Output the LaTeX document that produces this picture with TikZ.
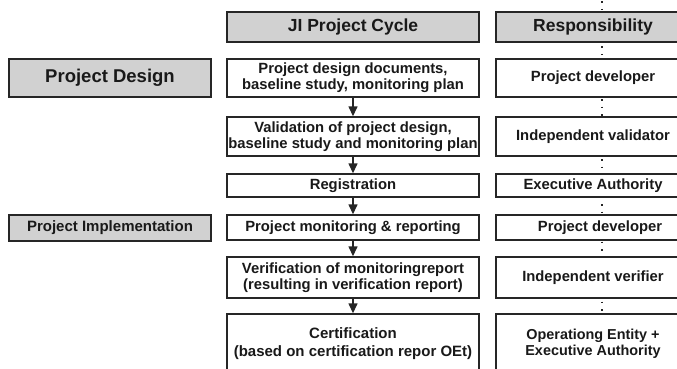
\documentclass[tikz,border=0pt]{standalone}
\usepackage{fontspec}
\setmainfont{Liberation Sans}
\usetikzlibrary{arrows.meta,positioning,backgrounds}

\begin{document}
\begin{tikzpicture}[x=1pt,y=-1pt,
  box/.style={draw=dark line,line width=1.4pt,fill=white,text=dark text,align=center,inner sep=0,
    font=\bfseries\fontsize{14.8}{16}\selectfont},
  stage/.style={box,minimum width=252pt},
  resp/.style={box,minimum width=194pt},
  head/.style={box,fill=light gray,minimum height=30pt,font=\bfseries\fontsize{17.5}{20}\selectfont},
  phase/.style={head,minimum width=202pt},
  flow/.style={-{Triangle[length=10pt,width=9pt]},line width=1.4pt,draw=dark line},
  dots/.style={line width=1.5pt,draw=dark line,dash pattern=on 1.5pt off 6pt},
]
  \colorlet{light gray}{black!18}
  \colorlet{dark line}{black!85}
  \colorlet{dark text}{black!90}
  \clip (0,0) rectangle (677,369);

  % phases
  \node[phase,minimum height=38pt,font=\bfseries\fontsize{18.5}{20}\selectfont] (design) at (110,78) {Project Design};
  \node[phase,minimum height=26pt,font=\bfseries\fontsize{15}{17}\selectfont] (impl) at (110,228) {Project Implementation};

  % project cycle
  \node[stage,head] (cycle) at (353,27) {JI Project Cycle};
  \node[stage,minimum height=38pt] (docs) at (353,78) {Project design documents,\\baseline study, monitoring plan};
  \node[stage,minimum height=39pt] (valid) at (353,136.5) {Validation of project design,\\baseline study and monitoring plan};
  \node[stage,minimum height=23pt] (reg) at (353,185.5) {Registration};
  \node[stage,minimum height=25pt] (monit) at (353,227.5) {Project monitoring \& reporting};
  \node[stage,minimum height=41pt] (verif) at (353,277.5) {Verification of monitoringreport\\(resulting in verification report)};
  \node[stage,minimum height=60pt,font=\bfseries\fontsize{15}{18}\selectfont] (cert) at (353,344) {Certification\\(based on certification repor OEt)};

  \draw[flow] (docs) -- (valid);
  \draw[flow] (valid) -- (reg);
  \draw[flow] (reg) -- (monit);
  \draw[flow] (monit) -- (verif);
  \draw[flow] (verif) -- (cert);

  % responsibility
  \node[resp,head] (resphead) at (593,27) {Responsibility};
  \node[resp,minimum height=38pt] (dev) at (593,78) {Project developer};
  \node[resp,minimum height=39pt] (validator) at (593,136.5) {Independent validator};
  \node[resp,minimum height=23pt] (exec) at (593,185.5) {Executive Authority};
  \node[resp,minimum height=25pt] (devb) at (593,227.5) {\hspace*{14pt}Project developer};
  \node[resp,minimum height=41pt] (verifier) at (593,277.5) {Independent verifier};
  \node[resp,minimum height=60pt,font=\bfseries\fontsize{14.4}{16}\selectfont] (oe) at (593,344) {Operationg Entity +\\Executive Authority};

  \coordinate (dtop) at (602,-6);
  \coordinate (dbot) at (602,320);
  \begin{scope}[on background layer]
    \draw[dots] (dtop) -- (dbot);
  \end{scope}
\end{tikzpicture}
\end{document}
